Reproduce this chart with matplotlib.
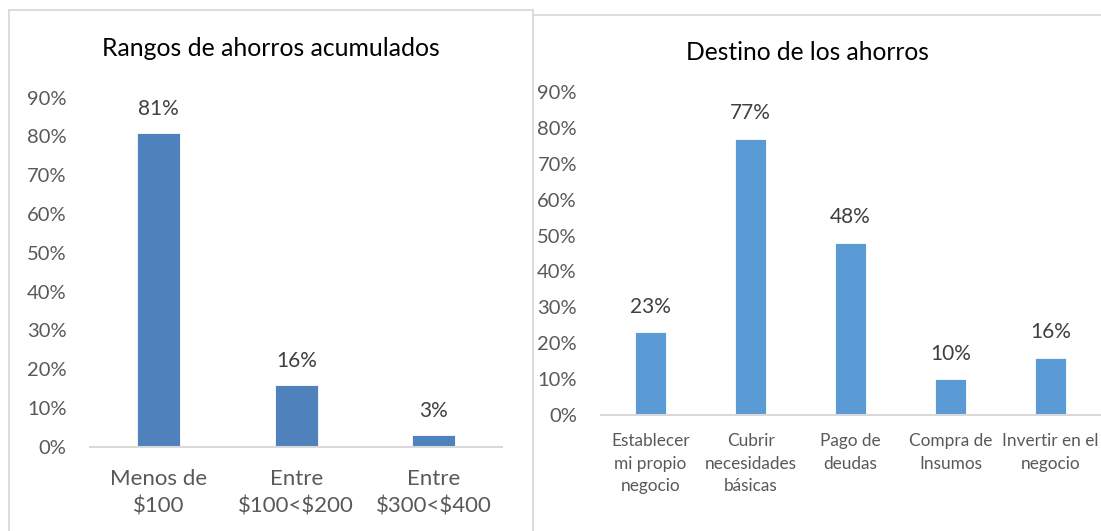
import matplotlib
matplotlib.use("Agg")
import matplotlib.pyplot as plt
from matplotlib.lines import Line2D
from matplotlib.ticker import PercentFormatter

plt.rcParams['font.family'] = ['Lato', 'DejaVu Sans']

# Data
left_title = "Rangos de ahorros acumulados"
left_categories = ["Menos de\n$100", "Entre\n$100<$200", "Entre\n$300<$400"]
left_values = [0.81, 0.16, 0.03]

right_title = "Destino de los ahorros"
right_categories = ["Establecer\nmi propio\nnegocio", "Cubrir\nnecesidades\nbásicas",
                    "Pago de\ndeudas", "Compra de\nInsumos", "Invertir en el\nnegocio"]
right_values = [0.23, 0.77, 0.48, 0.10, 0.16]

yticks = [0, 0.1, 0.2, 0.3, 0.4, 0.5, 0.6, 0.7, 0.8, 0.9]

W, H = 1101, 531
fig = plt.figure(figsize=(W / 100, H / 100), dpi=100)

def fx(px):
    return px / W

def fy(py):
    return 1 - py / H

border = "#D9D9D9"
# borders
fig.add_artist(Line2D([fx(9), fx(533)], [fy(10), fy(10)], color=border, lw=1.3))
fig.add_artist(Line2D([fx(9), fx(9)], [fy(10), fy(531)], color=border, lw=1.3))
fig.add_artist(Line2D([fx(533), fx(533)], [fy(10), fy(531)], color=border, lw=1.3))
fig.add_artist(Line2D([fx(533), fx(1101)], [fy(15), fy(15)], color=border, lw=1.3))

def style(ax, values, cats, color, tick_fs, cat_fs, lab_fs, cat_pad, label_pad, linesp):
    x = range(len(values))
    bars = ax.bar(x, values, width=0.31, color=color, edgecolor="white", linewidth=0.6)
    ax.set_xlim(-0.5, len(values) - 0.5)
    ax.set_ylim(0, 0.9)
    ax.set_yticks(yticks)
    ax.yaxis.set_major_formatter(PercentFormatter(1.0, decimals=0))
    ax.set_xticks(list(x))
    ax.set_xticklabels([c.replace("$", r"\$") for c in cats], linespacing=linesp)
    for s in ["top", "right", "left"]:
        ax.spines[s].set_visible(False)
    ax.spines["bottom"].set_color(border)
    ax.spines["bottom"].set_linewidth(1.5)
    ax.tick_params(axis="y", length=0, pad=17, labelsize=tick_fs, labelcolor="#595959")
    ax.tick_params(axis="x", length=0, pad=cat_pad, labelsize=cat_fs, labelcolor="#595959")
    ax.bar_label(bars, labels=[f"{round(v*100):.0f}%" for v in values],
                 padding=label_pad, fontsize=lab_fs, color="#404040")
    ax.patch.set_visible(False)

axL = fig.add_axes([90 / W, 1 - 446.7 / H, 412.5 / W, 349 / H])
style(axL, left_values, left_categories, "#4F81BD", 14.5, 16, 15, 16, 10, 1.5)
fig.text(fx(271), fy(56), left_title, ha="center", va="baseline", fontsize=17.8, color="black")

axR = fig.add_axes([600.5 / W, 1 - 415 / H, 500 / W, 323 / H])
style(axR, right_values, right_categories, "#5B9BD5", 14.5, 12.4, 15, 13, 11, 1.5)
fig.text(fx(807.5), fy(60), right_title, ha="center", va="baseline", fontsize=17.7, color="black")

fig.savefig("out.png", dpi=100)
